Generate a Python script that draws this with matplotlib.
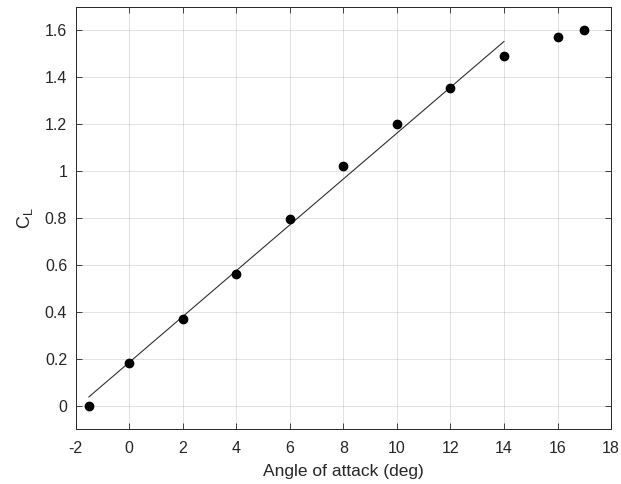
import matplotlib
matplotlib.use("Agg")
import matplotlib.pyplot as plt

# Measured lift coefficient vs angle of attack
alpha = [-1.5, 0, 2, 4, 6, 8, 10, 12, 14, 16, 17]
cl = [0.0, 0.18, 0.37, 0.56, 0.795, 1.02, 1.20, 1.355, 1.49, 1.57, 1.60]

# Linear fit over the attached-flow range
fit_alpha = [-1.5, 14]
fit_cl = [0.037, 1.553]

xticks = [-2, 0, 2, 4, 6, 8, 10, 12, 14, 16, 18]
yticks = [0, 0.2, 0.4, 0.6, 0.8, 1.0, 1.2, 1.4, 1.6]
ytick_labels = ["0", "0.2", "0.4", "0.6", "0.8", "1", "1.2", "1.4", "1.6"]

plt.rcParams["font.family"] = ["Liberation Sans", "DejaVu Sans"]
plt.rcParams["mathtext.fontset"] = "custom"
plt.rcParams["mathtext.rm"] = "Liberation Sans"
plt.rcParams["axes.unicode_minus"] = False

axis_color = "#262626"

fig = plt.figure(figsize=(6.21, 4.84), dpi=100)
ax = fig.add_axes([0.1216, 0.1136, 0.8624, 0.8719])

ax.plot(fit_alpha, fit_cl, color="#303030", linewidth=0.8, zorder=2)
ax.plot(alpha, cl, "o", color="black", markersize=6, zorder=3)

ax.set_xlim(-2, 18)
ax.set_ylim(-0.1, 1.7)
ax.set_xticks(xticks)
ax.set_yticks(yticks)
ax.set_yticklabels(ytick_labels)

ax.grid(True, color="#000000", alpha=0.13, linewidth=0.6)
ax.set_axisbelow(True)

ax.tick_params(direction="in", top=True, right=True, length=4, width=0.6,
               colors=axis_color, labelsize=11.5)
ax.tick_params(axis="x", pad=8.5)
ax.tick_params(axis="y", pad=6)
for side in ax.spines.values():
    side.set_color(axis_color)
    side.set_linewidth(0.7)

ax.set_xlabel("Angle of attack (deg)", fontsize=12.5, color=axis_color, labelpad=6)
ax.set_ylabel(r"$\mathregular{C_L}$", fontsize=13, color=axis_color, labelpad=7)

fig.savefig("out.png", dpi=100)
